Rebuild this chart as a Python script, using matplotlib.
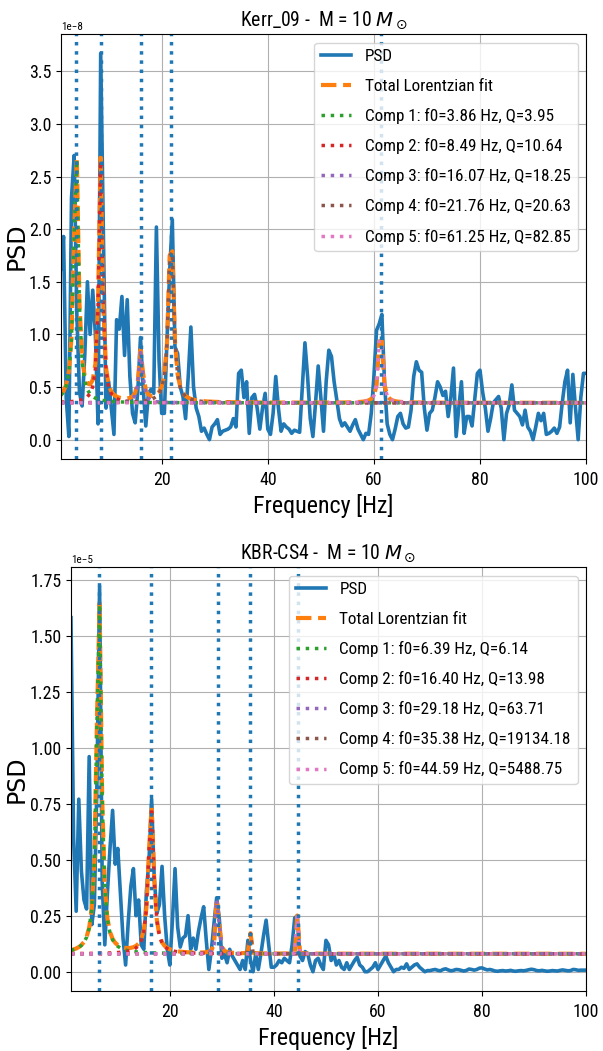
import numpy as np
import matplotlib
matplotlib.use("Agg")
import matplotlib.pyplot as plt
from matplotlib import font_manager

# --- 1. Police : on prend la plus étroite disponible ---
entries = font_manager.fontManager.ttflist
names = {f.name for f in entries}
has_cond = any(f.name == "DejaVu Sans" and f.stretch != "normal" for f in entries)

if "Liberation Sans Narrow" in names:
    FAMILY, WIDTH = "Liberation Sans Narrow", 0.74
elif "Roboto Condensed" in names:
    FAMILY, WIDTH = "Roboto Condensed", 0.80
elif has_cond:
    FAMILY, WIDTH = "DejaVu Sans", 0.90
    plt.rcParams["font.stretch"] = "condensed"
else:
    FAMILY, WIDTH = "DejaVu Sans", 1.0
plt.rcParams["font.family"] = [FAMILY, "DejaVu Sans"]

# tailles ramenées à la largeur du texte
TICK_FS = 10.3 / WIDTH
LEGEND_FS = 9.85 / WIDTH
TITLE_FS = 11.4 / WIDTH
XLABEL_FS = 13.8 / WIDTH
OFFSET_FS = 6.4 / WIDTH
YLABEL_FS = 17.0

# --- 2. Données ---
# Axe fréquentiel commun (pas de 0.5 Hz)
freqs = np.arange(1.0, 100.01, 0.5)

# PSD Kerr_09 (unités 1e-8)
psd_kerr = np.array([
    1.62, 1.93, 0.40, 0.03, 2.30, 2.70, 1.20, 0.45, 0.32, 0.80,
    1.50, 1.00, 1.42, 1.00, 0.15, 3.67, 2.00, 0.30, 0.55, 0.30,
    0.05, 1.14, 1.05, 1.36, 0.80, 1.33, 0.60, 0.25, 0.16, 0.47,
    0.97, 0.50, 0.13, 0.44, 0.48, 0.44, 2.02, 0.75, 0.25, 0.25,
    0.95, 1.60, 2.09, 0.88, 0.82, 0.50, 0.41, 0.20, 0.60, 1.07,
    0.50, 0.30, 0.22, 0.08, 0.11, 0.05, 0.00, 0.12, 0.15, 0.19,
    0.05, 0.08, 0.09, 0.10, 0.12, 0.20, 0.12, 0.63, 0.66, 0.40,
    0.55, 0.06, 0.40, 0.43, 0.30, 0.10, 0.30, 0.44, 0.10, 0.05,
    0.25, 0.60, 0.30, 0.08, 0.15, 0.12, 0.10, 0.06, 0.09, 0.08,
    0.07, 0.50, 0.92, 0.60, 0.20, 0.03, 0.35, 0.70, 0.40, 0.08,
    0.55, 0.85, 0.79, 0.55, 0.38, 0.20, 0.13, 0.16, 0.12, 0.08,
    0.14, 0.19, 0.10, 0.05, 0.00, 0.06, 0.05, 0.25, 0.60, 1.04,
    1.10, 1.19, 0.54, 0.15, 0.05, 0.00, 0.10, 0.22, 0.25, 0.15,
    0.11, 0.12, 0.28, 0.60, 0.74, 0.66, 0.64, 0.30, 0.09, 0.25,
    0.28, 0.40, 0.55, 0.50, 0.42, 0.46, 0.22, 0.40, 0.68, 0.03,
    0.30, 0.55, 0.06, 0.22, 0.22, 0.13, 0.38, 0.63, 0.66, 0.45,
    0.30, 0.08, 0.20, 0.35, 0.38, 0.41, 0.30, 0.00, 0.25, 0.33,
    0.52, 0.28, 0.25, 0.22, 0.14, 0.28, 0.12, 0.08, 0.00, 0.12,
    0.25, 0.18, 0.25, 0.05, 0.06, 0.08, 0.11, 0.06, 0.12, 0.35,
    0.55, 0.66, 0.16, 0.62, 0.30, 0.00, 0.40, 0.63, 0.63,
]) * 1e-8

# PSD KBR-CS4 (unités 1e-5)
psd_kbr = np.array([
    1.58, 0.60, 0.27, 0.77, 0.45, 0.32, 0.28, 0.96, 0.21, 0.30,
    0.85, 1.72, 0.40, 0.12, 0.35, 0.55, 0.72, 0.48, 0.55, 0.35,
    0.15, 0.03, 0.22, 0.38, 0.46, 0.25, 0.32, 0.12, 0.10, 0.36,
    0.50, 0.77, 0.42, 0.26, 0.30, 0.47, 0.25, 0.10, 0.03, 0.23,
    0.46, 0.20, 0.11, 0.15, 0.16, 0.25, 0.10, 0.15, 0.10, 0.18,
    0.24, 0.29, 0.14, 0.01, 0.10, 0.22, 0.33, 0.24, 0.06, 0.08,
    0.04, 0.10, 0.07, 0.05, 0.03, 0.01, 0.05, 0.01, 0.14, 0.05,
    0.00, 0.08, 0.01, 0.08, 0.16, 0.23, 0.12, 0.02, 0.02, 0.03,
    0.05, 0.04, 0.06, 0.05, 0.04, 0.12, 0.24, 0.25, 0.07, 0.05,
    0.09, 0.08, 0.03, 0.00, 0.05, 0.06, 0.03, 0.01, 0.14, 0.12,
    0.05, 0.08, 0.03, 0.05, 0.02, 0.01, 0.04, 0.01, 0.03, 0.05,
    0.065, 0.03, 0.02, 0.00, 0.00, 0.01, 0.02, 0.04, 0.01, 0.03,
    0.05, 0.07, 0.04, 0.02, 0.00, 0.01, 0.01, 0.02, 0.015, 0.035,
    0.01, 0.02, 0.03, 0.035, 0.02, 0.01, 0.00, 0.005, 0.005, 0.008,
    0.010, 0.006, 0.004, 0.010, 0.013, 0.008, 0.004, 0.006, 0.010, 0.009,
    0.006, 0.003, 0.006, 0.012, 0.010, 0.007, 0.010, 0.016, 0.017, 0.012,
    0.008, 0.010, 0.007, 0.003, 0.002, 0.004, 0.005, 0.003, 0.004, 0.006,
    0.003, 0.002, 0.004, 0.005, 0.004, 0.006, 0.009, 0.011, 0.009, 0.005,
    0.004, 0.006, 0.004, 0.002, 0.003, 0.005, 0.004, 0.003, 0.006, 0.008,
    0.006, 0.004, 0.005, 0.010, 0.009, 0.006, 0.007, 0.007, 0.007,
]) * 1e-5

# Paramètres des ajustements lorentziens (f0 en Hz, facteur Q, amplitude)
kerr_f0 = [3.86, 8.49, 16.07, 21.76, 61.25]
kerr_q = [3.95, 10.64, 18.25, 20.63, 82.85]
kerr_amp = np.array([2.50, 2.30, 0.49, 1.73, 0.85]) * 1e-8
kerr_offset = 0.35e-8

kbr_f0 = [6.39, 16.40, 29.18, 35.38, 44.59]
kbr_q = [6.14, 13.98, 63.71, 19134.18, 5488.75]
kbr_amp = np.array([1.63, 0.67, 0.39, 1515.0, 83.6]) * 1e-5
kbr_offset = 0.08e-5

comp_colors = ["tab:green", "tab:red", "tab:purple", "tab:brown", "tab:pink"]


def lorentz(f, f0, q, amp):
    # Lorentzienne de largeur à mi-hauteur f0/Q
    return amp / (1 + (2 * q * (f - f0) / f0) ** 2)


def draw_panel(ax, name, psd, f0s, qs, amps, offset, ylab_x):
    comps = [lorentz(freqs, f0, q, a) for f0, q, a in zip(f0s, qs, amps)]
    total = offset + np.sum(comps, axis=0)

    ax.plot(freqs, psd, color="tab:blue", lw=2.6, label="PSD")
    ax.plot(freqs, total, color="tab:orange", ls="--", lw=3.0,
            label="Total Lorentzian fit")
    for i, (c, f0, q) in enumerate(zip(comps, f0s, qs)):
        ax.plot(freqs, offset + c, ls=":", lw=2.5, color=comp_colors[i],
                label=f"Comp {i + 1}: f0={f0:.2f} Hz, Q={q:.2f}")
    # Repères verticaux sur chaque fréquence centrale
    for f0 in f0s:
        ax.axvline(f0, color="tab:blue", ls=":", lw=2.5)

    ax.set_xlim(1, 100)
    ax.set_title(f"{name} -  M = 10 $M_\\odot$", fontsize=TITLE_FS)
    ax.set_xlabel("Frequency [Hz]", fontsize=XLABEL_FS, labelpad=3)
    ax.set_ylabel("PSD", fontsize=YLABEL_FS, family="DejaVu Sans",
                  stretch="normal")
    ax.yaxis.set_label_coords(ylab_x, 0.5)
    ax.tick_params(labelsize=TICK_FS)
    ax.tick_params(axis="x", pad=5.5)
    ax.yaxis.get_offset_text().set_fontsize(OFFSET_FS)
    ax.grid(True)

    # légende : hauteur des lignes réglée par l'espacement
    fpx = LEGEND_FS * 100 / 72
    spacing = (216 - 0.8 * fpx - 7 * 0.98 * fpx) / (6 * fpx)
    ax.legend(loc="upper right", fontsize=LEGEND_FS,
              handlelength=30 / fpx, labelspacing=spacing)


# --- 3. Tracé ---
fig = plt.figure(figsize=(6.03, 10.51), dpi=100)
ax1 = fig.add_axes([0.101, 0.5633, 0.871, 0.4043])
ax2 = fig.add_axes([0.1177, 0.0571, 0.8543, 0.4034])

draw_panel(ax1, "Kerr_09", psd_kerr, kerr_f0, kerr_q, kerr_amp,
           kerr_offset, -0.062)
draw_panel(ax2, "KBR-CS4", psd_kbr, kbr_f0, kbr_q, kbr_amp,
           kbr_offset, -0.083)

fig.savefig("out.png", dpi=100)
